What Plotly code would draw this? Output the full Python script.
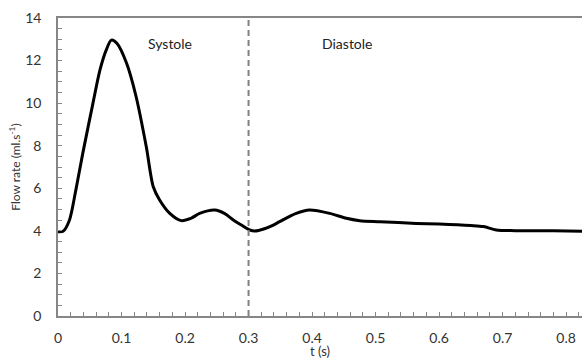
import plotly.graph_objects as go

# Data
t_s = [0.000, 0.008, 0.018, 0.028, 0.039, 0.055, 0.066, 0.076, 0.084, 0.093, 0.108, 0.123,
       0.139, 0.150, 0.160, 0.176, 0.194, 0.210, 0.223, 0.247, 0.262, 0.276, 0.290, 0.302,
       0.310, 0.325, 0.339, 0.349, 0.375, 0.396, 0.428, 0.454, 0.475, 0.507, 0.564, 0.600,
       0.650, 0.670, 0.690, 0.720, 0.780, 0.825]
flow = [3.96, 3.98, 4.50, 5.90, 7.64, 9.99, 11.55, 12.50, 12.96, 12.80, 11.87, 10.30,
        7.95, 6.07, 5.45, 4.82, 4.48, 4.60, 4.82, 4.98, 4.82, 4.51, 4.25, 4.04,
        3.99, 4.10, 4.27, 4.43, 4.82, 4.98, 4.82, 4.59, 4.48, 4.43, 4.35, 4.32,
        4.25, 4.20, 4.04, 4.01, 4.00, 3.98]

phase_labels = ["Systole", "Diastole"]
phase_x = [0.176, 0.456]
phase_y = [12.78, 12.78]
boundary_t = 0.3

x_ticks = [0, 0.1, 0.2, 0.3, 0.4, 0.5, 0.6, 0.7, 0.8]
x_ticklabels = ["0", "0.1", "0.2", "0.3", "0.4", "0.5", "0.6", "0.7", "0.8"]
y_ticks = [0, 2, 4, 6, 8, 10, 12, 14]

FONT = "Lato"
AXIS_COLOR = "#868686"
TEXT_COLOR = "#333333"

fig = go.Figure()
fig.add_trace(go.Scatter(
    x=t_s, y=flow, mode="lines",
    line=dict(color="black", width=3, shape="spline", smoothing=0.8),
    showlegend=False, hoverinfo="skip",
))

fig.add_shape(type="line", xref="x", yref="paper", x0=boundary_t, x1=boundary_t, y0=0, y1=1,
              line=dict(color="#808080", width=2, dash="6px,4px"), layer="above")

for lbl, xx, yy in zip(phase_labels, phase_x, phase_y):
    fig.add_annotation(x=xx, y=yy, xref="x", yref="y", text=lbl, showarrow=False,
                       font=dict(family=FONT, size=14, color="#222222"))

fig.update_layout(
    width=582, height=359,
    margin=dict(l=58, r=0, t=18, b=43),
    paper_bgcolor="white", plot_bgcolor="white",
    font=dict(family=FONT, size=14, color=TEXT_COLOR),
)

fig.update_xaxes(
    range=[0, 0.825], tickvals=x_ticks, ticktext=x_ticklabels,
    showgrid=False, zeroline=False,
    showline=True, linecolor=AXIS_COLOR, linewidth=1.5, mirror=True,
    ticks="inside", ticklen=4, tickcolor=AXIS_COLOR, tickwidth=1,
    minor=dict(dtick=0.02, tick0=0, ticks="inside", ticklen=4, tickcolor=AXIS_COLOR, tickwidth=1, showgrid=False),
    ticklabelstandoff=8,
    tickfont=dict(family=FONT, size=14, color=TEXT_COLOR),
    title=dict(text="t (s)", font=dict(family=FONT, size=13, color=TEXT_COLOR), standoff=0),
)

fig.update_yaxes(
    range=[0, 14], tickvals=y_ticks,
    showgrid=False, zeroline=False,
    showline=True, linecolor=AXIS_COLOR, linewidth=1.5,
    ticks="inside", ticklen=4, tickcolor=AXIS_COLOR, tickwidth=1,
    minor=dict(dtick=0.5, tick0=0, ticks="inside", ticklen=4, tickcolor=AXIS_COLOR, tickwidth=1, showgrid=False),
    ticklabelstandoff=12,
    tickfont=dict(family=FONT, size=14, color=TEXT_COLOR),
    title=dict(text="Flow rate (ml.s<sup>-1</sup>)", font=dict(family=FONT, size=12, color=TEXT_COLOR), standoff=2),
)

fig.write_html("out.html")
